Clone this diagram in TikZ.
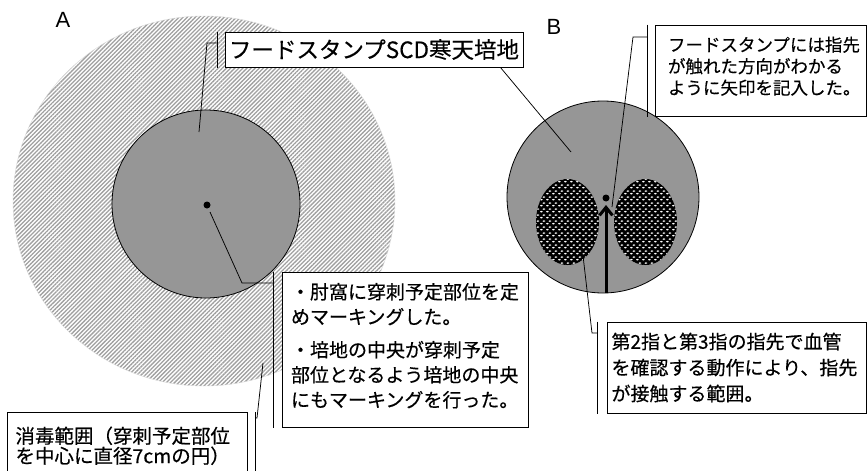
\documentclass[tikz,border=0pt]{standalone}
\usepackage{fontspec}
\setmainfont{Noto Sans CJK JP}[FakeBold=0.4]
\newfontfamily\arialfont{Liberation Sans}
\usetikzlibrary{patterns,patterns.meta,shapes.geometric,arrows.meta}
\definecolor{circgray}{RGB}{150,150,150}
\definecolor{hatchgray}{RGB}{160,160,160}
\setlength{\lineskiplimit}{-20pt}
\tikzdeclarepattern{
  name=wdots, type=uncolored,
  bounding box={(0,0) and (6pt,6pt)},
  tile size={(6pt,6pt)},
  code={
    \fill (1.5pt,1.5pt) ellipse [x radius=1.8pt, y radius=0.95pt];
    \fill (4.5pt,4.5pt) ellipse [x radius=1.8pt, y radius=0.95pt];
  }
}
\begin{document}
\begin{tikzpicture}[x=1pt,y=-1pt,
  box/.style={draw=black, line width=1pt, fill=white, inner sep=0pt},
  conn/.style={draw=black, line width=0.75pt},
  accbar/.style={draw=black, line width=0.75pt},
  dish/.style={circle, inner sep=0pt, draw=black, line width=0.8pt, fill=circgray},
  finger/.style={ellipse, inner sep=0pt, minimum width=63pt, minimum height=86pt, fill=black,
    postaction={pattern=wdots, pattern color=white}},
  blackdot/.style={circle, fill=black, inner sep=0pt, minimum size=7pt},
  letter/.style={font=\arialfont\fontsize{22}{22}\selectfont, inner sep=0pt}
]
\useasboundingbox (0,0) rectangle (868,471);
\fill[white] (0,0) rectangle (868,471);

% ---- A ----
\node[ellipse, minimum width=382pt, minimum height=370pt, inner sep=0pt,
  draw=black!15, line width=0.4pt,
  pattern={Lines[angle=45,distance=2.9pt,line width=1.3pt]}, pattern color=hatchgray] (zoneA) at (204,201) {};
\node[dish, minimum size=188pt] (dishA) at (206,204) {};
\node[blackdot] (dotA) at (207,205) {};
\node[letter] (labA) at (63,20) {A};

% ---- B ----
\node[dish, minimum size=192pt] (dishB) at (603,197) {};
\node[finger] (fingL) at (567.5,222) {};
\node[finger] (fingR) at (645.5,222) {};
\node[blackdot] (dotB) at (606,198) {};
\coordinate (arrB0) at (606,293);
\coordinate (arrB1) at (606,205);
\draw[line width=3pt, -{Straight Barb[length=8pt,width=13pt]}] (arrB0) -- (arrB1);
\node[letter] (labB) at (554,27) {B};

% ---- boxes ----
\node[box, minimum width=298pt, minimum height=35pt, font=\fontsize{22.5}{22.5}\selectfont] (box1) at (374,49.5) {フードスタンプSCD寒天培地};

\node[box, minimum width=246pt, minimum height=155pt, text width=228pt, align=left,
  font=\fontsize{19}{25}\selectfont] (box2) at (405,349.5)
  {・肘窩に穿刺予定部位を定\\めマーキングした。\\[8pt]・培地の中央が穿刺予定\\部位となるよう培地の中央\\にもマーキングを行った。\rule[-9pt]{0pt}{0pt}};

\node[box, anchor=north west, text width=224pt, inner xsep=8pt, inner ysep=14pt, align=left,
  font=\fontsize{19.5}{20}\selectfont] (box3) at (7,412)
  {消毒範囲（穿刺予定部位\\を中心に直径7cmの円）};

\node[box, minimum width=211pt, minimum height=91pt, text width=185pt, align=left,
  font=\fontsize{17.5}{21.5}\selectfont] (boxB) at (760.5,70.5)
  {フードスタンプには指先\\が触れた方向がわかる\\ように矢印を記入した。\rule[-10pt]{0pt}{0pt}};

\node[box, minimum width=259pt, minimum height=91pt, text width=250pt, align=left,
  font=\fontsize{19}{26}\selectfont] (box4) at (736.5,367.5)
  {第2指と第3指の指先で血管\\を確認する動作により、指先\\が接触する範囲。};

% ---- callouts ----
% box1 -> A
\coordinate (k1a) at (199,132);
\coordinate (k1b) at (207,43);
\coordinate (bar1t) at ([xshift=-7pt]box1.north west);
\coordinate (bar1b) at ([xshift=-7pt]box1.south west);
\draw[conn] (k1a) -- (k1b) -- (k1b -| bar1t);
\draw[accbar] (bar1t) -- (bar1b);
% box1 -> B
\coordinate (k1c) at ([xshift=-23pt]box1.south east);
\coordinate (k1d) at (571,152);
\draw[conn] (k1c) -- (k1d);
% box2
\coordinate (k2a) at (210,212);
\coordinate (k2b) at (242,283);
\coordinate (bar2t) at ([xshift=-8pt]box2.north west);
\coordinate (bar2b) at ([xshift=-8pt]box2.south west);
\draw[conn] (k2a) -- (k2b) -- (k2b -| bar2t);
\draw[accbar] (bar2t) -- (bar2b);
% box3
\coordinate (k3a) at (263,363);
\coordinate (k3b) at (257,418);
\coordinate (bar3t) at ([xshift=7pt]box3.north east);
\coordinate (bar3b) at ([xshift=7pt]box3.south east);
\draw[conn] (k3a) -- (k3b) -- (k3b -| bar3t);
\draw[accbar] (bar3t) -- (bar3b);
% boxB
\coordinate (kBa) at (612,207);
\coordinate (kBb) at (633,37);
\coordinate (barBt) at ([xshift=-7pt]boxB.north west);
\coordinate (barBb) at ([xshift=-7pt]boxB.south west);
\draw[conn] (kBa) -- (kBb) -- (kBb -| barBt);
\draw[accbar] (barBt) -- (barBb);
% box4
\coordinate (k4a) at (582,247);
\coordinate (k4b) at (592,333);
\coordinate (bar4t) at ([xshift=-9pt]box4.north west);
\coordinate (bar4b) at ([xshift=-9pt]box4.south west);
\draw[conn] (k4a) -- (k4b) -- (k4b -| bar4t);
\draw[accbar] (bar4t) -- (bar4b);
\end{tikzpicture}
\end{document}
